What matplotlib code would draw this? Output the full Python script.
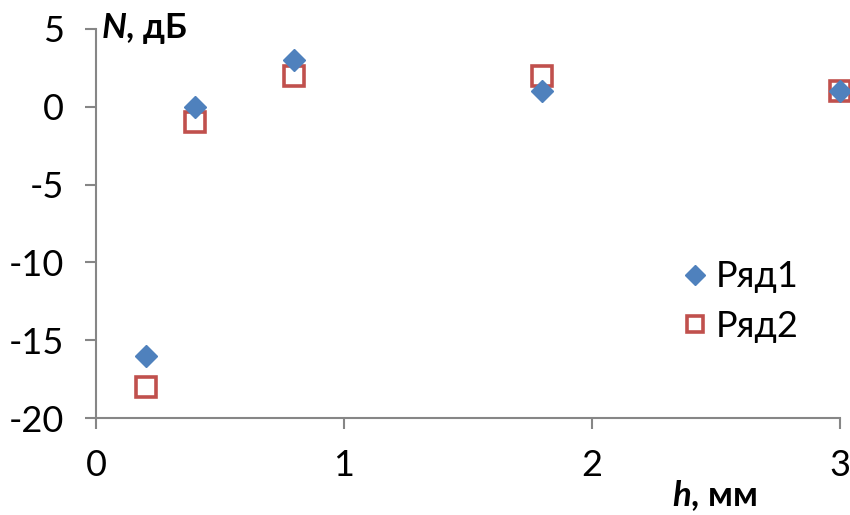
import matplotlib.pyplot as plt

# Measured values
h = [0.2, 0.4, 0.8, 1.8, 3.0]
row1 = [-16, 0, 3, 1, 1]
row2 = [-18, -1, 2, 2, 1]
series_names = ["Ряд1", "Ряд2"]

xticks = [0, 1, 2, 3]
yticks = [-20, -15, -10, -5, 0, 5]

plt.rcParams['font.family'] = ['Lato', 'DejaVu Sans']
plt.rcParams['mathtext.fontset'] = 'custom'
plt.rcParams['mathtext.bfit'] = 'Lato:italic:bold'
plt.rcParams['mathtext.it'] = 'Lato:italic:bold'

fig = plt.figure(figsize=(8.5, 5.15), dpi=100)
ax = fig.add_axes([0.113, 0.188, 0.875, 0.756])

ax.plot(h, row2, linestyle="none", marker="s", markersize=14,
        markerfacecolor="none", markeredgecolor="#C0504D", markeredgewidth=2.6,
        label=series_names[1], clip_on=False, zorder=3)
ax.plot(h, row1, linestyle="none", marker="D", markersize=11.5,
        color="#4F81BD", markeredgecolor="#4F81BD", label=series_names[0],
        clip_on=False, zorder=4)

ax.set_xlim(0, 3)
ax.set_ylim(-20, 5)
ax.set_xticks(xticks)
ax.set_yticks(yticks)
ax.set_xticklabels([str(v) for v in xticks])
ax.set_yticklabels([str(v) for v in yticks])

for side in ["top", "right"]:
    ax.spines[side].set_visible(False)
for side in ["left", "bottom"]:
    ax.spines[side].set_color("#868686")
    ax.spines[side].set_linewidth(1.5)

ax.tick_params(axis="both", direction="out", length=8, width=1.5, color="#868686",
               labelsize=26, labelcolor="black")
ax.tick_params(axis="x", pad=14)
ax.tick_params(axis="y", pad=15)

# axis titles placed beside the axes
ax.text(0.006, 1.0, r"$\mathit{N}$" + ", дБ", transform=ax.transAxes, fontsize=25,
        fontweight="bold", ha="left", va="center")
ax.text(0.832, -0.198, r"$\mathit{h}$" + ", мм", transform=ax.transAxes, fontsize=25,
        fontweight="bold", ha="center", va="center")

# legend in the order Ряд1, Ряд2
handles, labels = ax.get_legend_handles_labels()
leg = ax.legend(handles[::-1], labels[::-1], loc="center left",
                bbox_to_anchor=(0.727, 0.30), frameon=False,
                fontsize=26, handletextpad=-0.1, labelspacing=0.45,
                markerscale=0.85, handlelength=1.4)

fig.savefig("out.png", dpi=100)
